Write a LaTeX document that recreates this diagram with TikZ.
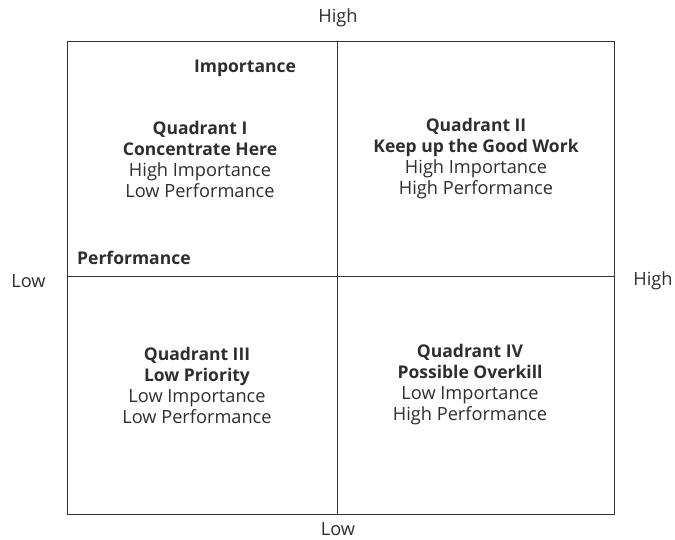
\documentclass[tikz,border=0pt]{standalone}
\usepackage{fontspec}
\setmainfont{Open Sans}
\newcommand{\qb}[1]{{\fontsize{17.5}{21}\selectfont\bfseries #1}}
\begin{document}
\begin{tikzpicture}[x=1pt,y=-1pt,
  lbl/.style={font=\fontsize{18.2}{21}\selectfont, text=black!82, inner sep=0pt},
  blbl/.style={lbl, font=\fontsize{17.5}{21}\selectfont\bfseries},
  qlbl/.style={lbl, align=center},
  axis/.style={draw=black!80, line width=1pt}]
\useasboundingbox (0,0) rectangle (675,539);
\coordinate (tl) at (67,41);
\coordinate (br) at (614,514);
\coordinate (mt) at (337,41);
\coordinate (mb) at (337,514);
\coordinate (ml) at (67,276);
\coordinate (mr) at (614,276);
\draw[axis] (tl) rectangle (br);
\draw[axis] (mt) -- (mb);
\draw[axis] (ml) -- (mr);
\node[lbl] (hightop) at (338,18) {High};
\node[lbl, anchor=base] (lowbot) at (338,535) {Low};
\node[lbl] (lowleft) at (28.5,281) {Low};
\node[lbl] (highright) at (653,281) {High};
\node[blbl] (imp) at (245,68) {Importance};
\node[blbl, anchor=west] (perf) at (77,258) {Performance};
\node[qlbl] (q1) at (200,159) {\qb{Quadrant I}\\\qb{Concentrate Here}\\High Importance\\Low Performance};
\node[qlbl] (q2) at (476,159) {\qb{Quadrant II}\\\qb{Keep up the Good Work}\\High Importance\\High Performance};
\node[qlbl] (q3) at (197,385) {\qb{Quadrant III}\\\qb{Low Priority}\\Low Importance\\Low Performance};
\node[qlbl] (q4) at (470,385) {\qb{Quadrant IV}\\\qb{Possible Overkill}\\Low Importance\\High Performance};
\end{tikzpicture}
\end{document}
